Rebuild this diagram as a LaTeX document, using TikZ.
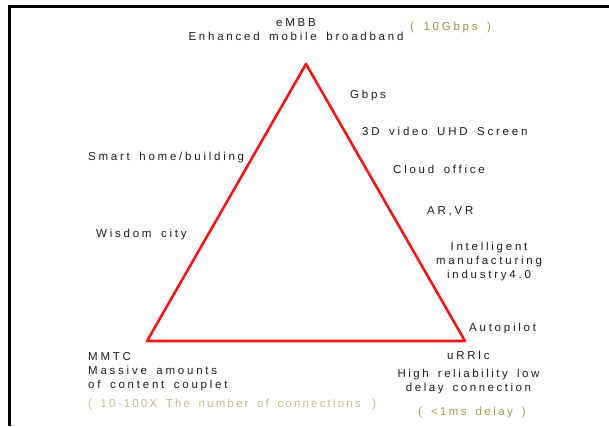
\documentclass[tikz,border=0pt]{standalone}
\usepackage{fontspec}
\setmainfont{Liberation Sans}[LetterSpace=24, WordSpace=1.6]
\definecolor{txt}{HTML}{1E1E1E}
\definecolor{goldA}{HTML}{9E963C}
\definecolor{goldB}{HTML}{C2BA8E}
\definecolor{goldC}{HTML}{A69E4E}
\definecolor{tri}{HTML}{F01818}
\tikzset{
  lbl/.style={inner sep=0pt, text=txt, font=\fontsize{11.5bp}{14bp}\selectfont},
}
\begin{document}
\begin{tikzpicture}[x=1bp,y=-1bp]
\useasboundingbox (0,0) rectangle (609,426);
\fill[white] (0,0) rectangle (609,426);
% frame (top and left edges)
\coordinate (fbl) at (9.5,426);
\coordinate (ftl) at (9.5,6.5);
\coordinate (ftr) at (609,6.5);
\draw[line width=2.2bp, black] (fbl) -- (ftl) -- (ftr);
% triangle
\coordinate (top) at (306,64);
\coordinate (bl) at (147,341);
\coordinate (br) at (465,341);
\draw[tri, line width=2.6bp, line join=round] (top) -- (br) -- (bl) -- cycle;
% top
\node[lbl, align=center, anchor=north] (embb) at (296,18) {eMBB\\Enhanced mobile broadband};
\node[lbl, text=goldA, anchor=west] (g10) at (410,28) {( 10Gbps )};
% right side
\node[lbl, anchor=west] (gbps) at (350,95.5) {Gbps};
\node[lbl, anchor=west] (uhd) at (362,131) {3D video UHD Screen};
\node[lbl, anchor=west] (cloud) at (393,169) {Cloud office};
\node[lbl, anchor=west] (arvr) at (427,211) {AR,VR};
\node[lbl, align=center, anchor=north] (intel) at (489,241.5) {Intelligent\\manufacturing\\industry4.0};
\node[lbl, anchor=west] (auto) at (469,329) {Autopilot};
\node[lbl, anchor=west] (urllc) at (447,355) {uRRlc};
\node[lbl, align=center, anchor=north] (hrl) at (468.5,369) {\addfontfeature{LetterSpace=22}High reliability low\\\addfontfeature{LetterSpace=22}delay connection};
\node[lbl, text=goldC, anchor=west] (ms) at (418,413) {\addfontfeature{LetterSpace=21}( <1ms delay )};
% left side
\node[lbl, anchor=west] (smart) at (88,158) {Smart home/building};
\node[lbl, anchor=west] (wisdom) at (96,235) {Wisdom city};
\node[lbl, align=left, anchor=north west] (mmtc) at (88,352.5) {MMTC\\Massive amounts\\of content couplet};
\node[lbl, text=goldB, anchor=west] (conn) at (88,405) {\addfontfeature{LetterSpace=19}( 10-100X The number of connections\hspace{3bp} )};
\end{tikzpicture}
\end{document}
